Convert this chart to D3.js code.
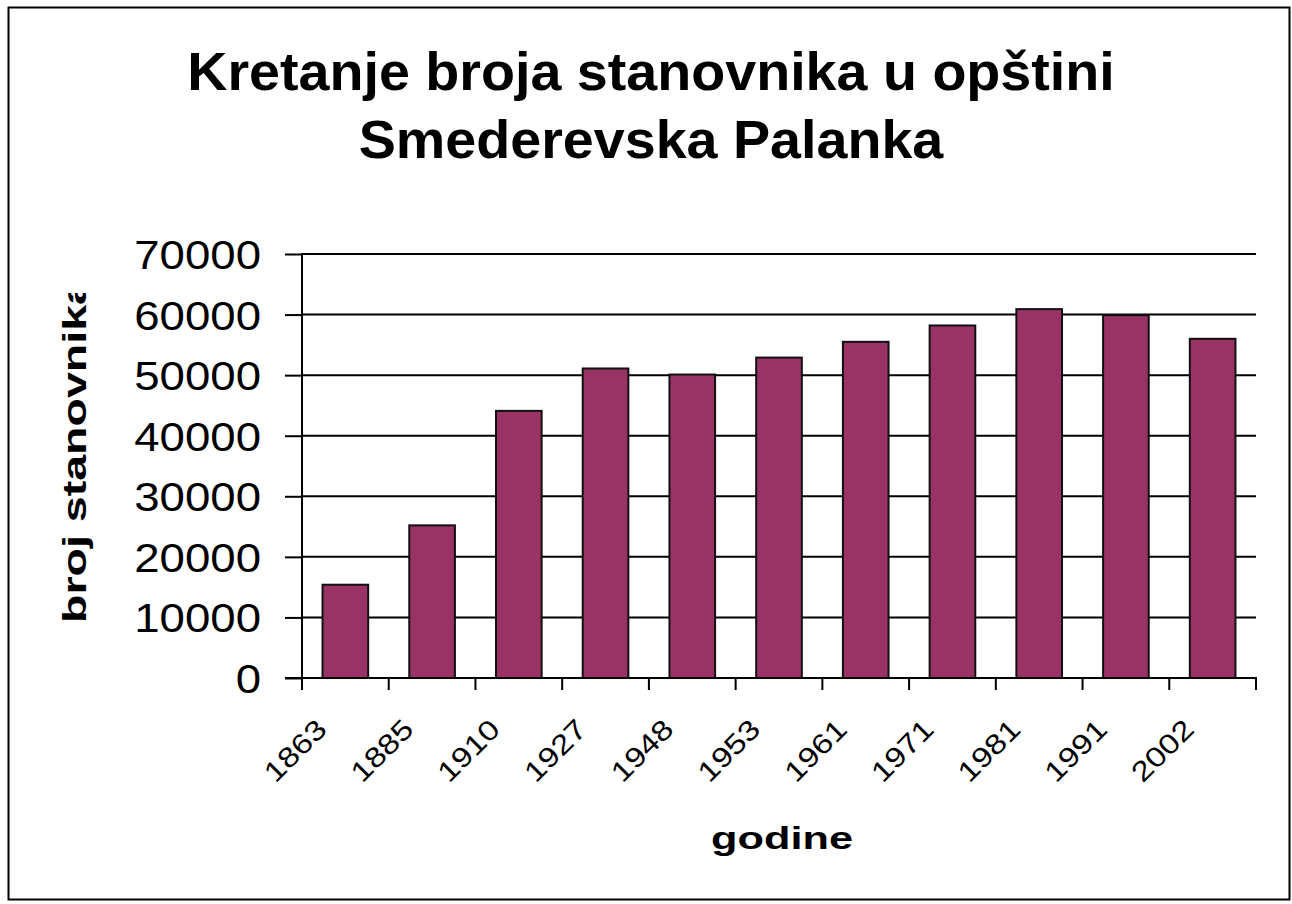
<!DOCTYPE html>
<html>
<head>
<meta charset="utf-8">
<script src="https://cdn.jsdelivr.net/npm/d3@7/dist/d3.min.js"></script>
<style>
  html, body { margin: 0; padding: 0; background: #fff; }
  svg { display: block; }
  text { font-family: "Liberation Sans", Arial, sans-serif; fill: #000; }
</style>
</head>
<body>
<svg id="chart" width="1292" height="904"></svg>
<script>
// Population census years and counts for the municipality
const years = ["1863", "1885", "1910", "1927", "1948", "1953", "1961", "1971", "1981", "1991", "2002"];
const population = [15400, 25200, 44100, 51100, 50100, 52900, 55500, 58200, 60900, 59900, 56000];
const yTicks = [0, 10000, 20000, 30000, 40000, 50000, 60000, 70000];
const titleLines = ["Kretanje broja stanovnika u opštini", "Smederevska Palanka"];
const xTitle = "godine";
const yTitle = "broj stanovnika";

const svg = d3.select("#chart");
const plot = { left: 302, right: 1256, top: 254, bottom: 678 };

const x = d3.scaleBand().domain(years).range([plot.left, plot.right]);
const y = d3.scaleLinear().domain([0, 70000]).range([plot.bottom, plot.top]);
const barW = x.bandwidth() / 1.9;

// chart area frame
svg.append("rect")
  .attr("x", 8.5).attr("y", 7.5).attr("width", 1281).attr("height", 892)
  .attr("fill", "#fff").attr("stroke", "#000").attr("stroke-width", 2);

// title
svg.append("g").selectAll("text").data(titleLines).join("text")
  .attr("transform", (d, i) => `translate(651,${90 + i * 68}) scale(1.05,1)`)
  .attr("text-anchor", "middle")
  .attr("font-weight", "bold")
  .attr("font-size", 53)
  .text(d => d);

// horizontal gridlines
svg.append("g").selectAll("line").data(yTicks.filter(t => t > 0)).join("line")
  .attr("x1", plot.left).attr("x2", plot.right)
  .attr("y1", d => y(d)).attr("y2", d => y(d))
  .attr("stroke", "#000").attr("stroke-width", 2);

// bars
svg.append("g").selectAll("rect").data(population).join("rect")
  .attr("x", (d, i) => x(years[i]) + (x.bandwidth() - barW) / 2)
  .attr("y", d => y(d))
  .attr("width", barW)
  .attr("height", d => y(0) - y(d))
  .attr("fill", "#993366")
  .attr("stroke", "#111")
  .attr("stroke-width", 2);

// value axis
const yAxis = svg.append("g")
  .attr("transform", `translate(${plot.left},0)`)
  .call(d3.axisLeft(y).tickValues(yTicks).tickSize(17).tickPadding(24).tickFormat(d3.format("d")));
yAxis.select(".domain").remove();
yAxis.selectAll(".tick line").attr("stroke", "#000").attr("stroke-width", 2);
yAxis.selectAll(".tick text")
  .attr("font-size", 40)
  .attr("font-family", "Liberation Sans, Arial, sans-serif")
  .attr("x", null).attr("dy", null)
  .attr("text-anchor", "end")
  .attr("transform", "translate(-41,14.5) scale(1.14,1)");
svg.append("line")
  .attr("x1", plot.left).attr("x2", plot.left)
  .attr("y1", plot.top - 1).attr("y2", plot.bottom + 12)
  .attr("stroke", "#000").attr("stroke-width", 2);

// category axis: line, ticks between categories, rotated labels
svg.append("line")
  .attr("x1", plot.left - 17).attr("x2", plot.right + 1)
  .attr("y1", plot.bottom).attr("y2", plot.bottom)
  .attr("stroke", "#000").attr("stroke-width", 2);
const tickXs = years.map(d => x(d)).concat([plot.right]);
svg.append("g").selectAll("line").data(tickXs).join("line")
  .attr("x1", d => d).attr("x2", d => d)
  .attr("y1", plot.bottom).attr("y2", plot.bottom + 12)
  .attr("stroke", "#000").attr("stroke-width", 2);
svg.append("g").selectAll("text").data(years).join("text")
  .attr("transform", d => `translate(${x(d) + x.bandwidth() / 2 - 17},${plot.bottom + 53}) rotate(-45) scale(1.2,1)`)
  .attr("text-anchor", "end")
  .attr("font-size", 28)
  .text(d => d);

// axis titles
svg.append("text")
  .attr("x", 782).attr("y", 849)
  .attr("text-anchor", "middle")
  .attr("font-weight", "bold")
  .attr("font-size", 32)
  .attr("textLength", 142)
  .attr("lengthAdjust", "spacingAndGlyphs")
  .text(xTitle);

svg.append("clipPath").attr("id", "ytitle-clip")
  .append("rect").attr("x", 0).attr("y", 293).attr("width", 200).attr("height", 500);
svg.append("g").attr("clip-path", "url(#ytitle-clip)")
  .append("text")
  .attr("transform", "translate(86,623) rotate(-90)")
  .attr("text-anchor", "start")
  .attr("font-weight", "bold")
  .attr("font-size", 34)
  .attr("textLength", 344)
  .attr("lengthAdjust", "spacingAndGlyphs")
  .text(yTitle);
</script>
</body>
</html>
